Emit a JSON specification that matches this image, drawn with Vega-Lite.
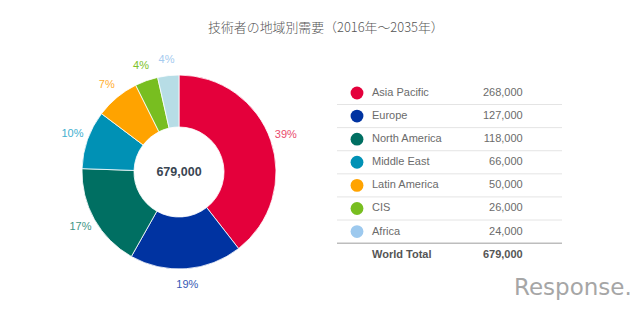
{
  "$schema": "https://vega.github.io/schema/vega-lite/v6.json",
  "background": "white",
  "padding": {"left": 54, "top": 21, "right": 5, "bottom": 5},
  "title": {
    "text": "技術者の地域別需要（2016年〜2035年）",
    "font": "Noto Sans CJK JP",
    "fontSize": 12.9,
    "fontWeight": 300,
    "color": "#555555",
    "offset": 17.4,
    "anchor": "middle",
    "dx": -17
  },
  "config": {"view": {"stroke": null}, "font": "Liberation Sans"},
  "datasets": {
    "regions": [
      {"region": "Asia Pacific", "value": 268000, "share": "39%", "rank": 1},
      {"region": "Europe", "value": 127000, "share": "19%", "rank": 2},
      {"region": "North America", "value": 118000, "share": "17%", "rank": 3},
      {"region": "Middle East", "value": 66000, "share": "10%", "rank": 4},
      {"region": "Latin America", "value": 50000, "share": "7%", "rank": 5},
      {"region": "CIS", "value": 26000, "share": "4%", "rank": 6},
      {"region": "Africa", "value": 24000, "share": "4%", "rank": 7}
    ],
    "table": [
      {"region": "Asia Pacific", "value": 268000, "rank": 1},
      {"region": "Europe", "value": 127000, "rank": 2},
      {"region": "North America", "value": 118000, "rank": 3},
      {"region": "Middle East", "value": 66000, "rank": 4},
      {"region": "Latin America", "value": 50000, "rank": 5},
      {"region": "CIS", "value": 26000, "rank": 6},
      {"region": "Africa", "value": 24000, "rank": 7},
      {"region": "World Total", "value": 679000, "rank": 8}
    ]
  },
  "spacing": 32,
  "resolve": {"scale": {"color": "independent", "x": "independent", "y": "independent"}},
  "hconcat": [
    {
      "width": 250,
      "height": 240,
      "data": {"name": "regions"},
      "resolve": {"scale": {"color": "independent"}},
      "layer": [
        {
          "mark": {"type": "arc", "innerRadius": 45, "outerRadius": 97, "stroke": "#ffffff", "strokeWidth": 0.8},
          "encoding": {
            "theta": {"field": "value", "type": "quantitative", "stack": true},
            "order": {"field": "rank", "type": "quantitative"},
            "color": {
              "field": "region", "type": "nominal", "legend": null,
              "scale": {
                "domain": ["Asia Pacific", "Europe", "North America", "Middle East", "Latin America", "CIS", "Africa"],
                "range": ["#e4003b", "#0033a1", "#006f62", "#0091b5", "#ffa300", "#78be20", "#b7dde6"]
              }
            }
          }
        },
        {
          "mark": {"type": "text", "radius": 113, "fontSize": 11},
          "encoding": {
            "theta": {"field": "value", "type": "quantitative", "stack": true},
            "order": {"field": "rank", "type": "quantitative"},
            "text": {"field": "share", "type": "nominal"},
            "color": {
              "field": "region", "type": "nominal", "legend": null,
              "scale": {
                "domain": ["Asia Pacific", "Europe", "North America", "Middle East", "Latin America", "CIS", "Africa"],
                "range": ["#ea4a6b", "#3559b5", "#3f9585", "#3fb0d0", "#ffae2e", "#7dc12a", "#a5cbef"]
              }
            }
          }
        },
        {
          "data": {"values": [{"total": "679,000"}]},
          "mark": {"type": "text", "fontSize": 12.5, "fontWeight": "bold", "color": "#3a4552"},
          "encoding": {"text": {"field": "total", "type": "nominal"}}
        }
      ]
    },
    {
      "width": 250,
      "height": 231,
      "data": {"name": "table"},
      "encoding": {
        "y": {
          "field": "region", "type": "nominal", "axis": null,
          "scale": {
            "type": "band",
            "domain": ["Asia Pacific", "Europe", "North America", "Middle East", "Latin America", "CIS", "Africa", "World Total"],
            "paddingInner": 0, "paddingOuter": 1, "align": 0.637
          }
        }
      },
      "layer": [
        {
          "transform": [{"filter": "datum.rank >= 2 && datum.rank <= 7"}],
          "mark": {"type": "rule", "color": "#e4e4e4", "strokeWidth": 1},
          "encoding": {
            "y": {"field": "region", "type": "nominal", "bandPosition": 0},
            "x": {"datum": 0, "type": "quantitative", "scale": {"domain": [0, 250], "nice": false}, "axis": null},
            "x2": {"datum": 225}
          }
        },
        {
          "transform": [{"filter": "datum.rank == 8"}],
          "mark": {"type": "rule", "color": "#bdbdbd", "strokeWidth": 1.5},
          "encoding": {
            "y": {"field": "region", "type": "nominal", "bandPosition": 0},
            "x": {"datum": 0, "type": "quantitative"},
            "x2": {"datum": 225}
          }
        },
        {
          "transform": [{"filter": "datum.rank <= 7"}],
          "mark": {"type": "point", "filled": true, "shape": "circle", "size": 165, "opacity": 1},
          "encoding": {
            "x": {"datum": 20, "type": "quantitative"},
            "color": {
              "field": "region", "type": "nominal", "legend": null,
              "scale": {
                "domain": ["Asia Pacific", "Europe", "North America", "Middle East", "Latin America", "CIS", "Africa"],
                "range": ["#e4003b", "#0033a1", "#006f62", "#0091b5", "#ffa300", "#78be20", "#9dc9ee"]
              }
            }
          }
        },
        {
          "transform": [{"filter": "datum.rank <= 7"}],
          "mark": {"type": "text", "align": "left", "fontSize": 11, "color": "#6b6b6b"},
          "encoding": {
            "x": {"datum": 35, "type": "quantitative"},
            "text": {"field": "region", "type": "nominal"}
          }
        },
        {
          "transform": [{"filter": "datum.rank <= 7"}],
          "mark": {"type": "text", "align": "right", "fontSize": 11, "color": "#6b6b6b"},
          "encoding": {
            "x": {"datum": 185.7, "type": "quantitative"},
            "text": {"field": "value", "type": "quantitative", "format": ","}
          }
        },
        {
          "transform": [{"filter": "datum.rank == 8"}],
          "mark": {"type": "text", "align": "left", "fontSize": 11, "fontWeight": "bold", "color": "#555555"},
          "encoding": {
            "x": {"datum": 35, "type": "quantitative"},
            "text": {"field": "region", "type": "nominal"}
          }
        },
        {
          "transform": [{"filter": "datum.rank == 8"}],
          "mark": {"type": "text", "align": "right", "fontSize": 11, "fontWeight": "bold", "color": "#555555"},
          "encoding": {
            "x": {"datum": 185.7, "type": "quantitative"},
            "text": {"field": "value", "type": "quantitative", "format": ","}
          }
        },
        {
          "data": {"values": [{"brand": "Response."}]},
          "mark": {"type": "text", "align": "left", "fontSize": 23, "color": "#a6a6a6", "dy": 33, "font": "DejaVu Sans"},
          "encoding": {
            "x": {"datum": 177, "type": "quantitative"},
            "y": {"datum": "World Total", "type": "nominal"},
            "text": {"field": "brand", "type": "nominal"}
          }
        }
      ]
    }
  ]
}
